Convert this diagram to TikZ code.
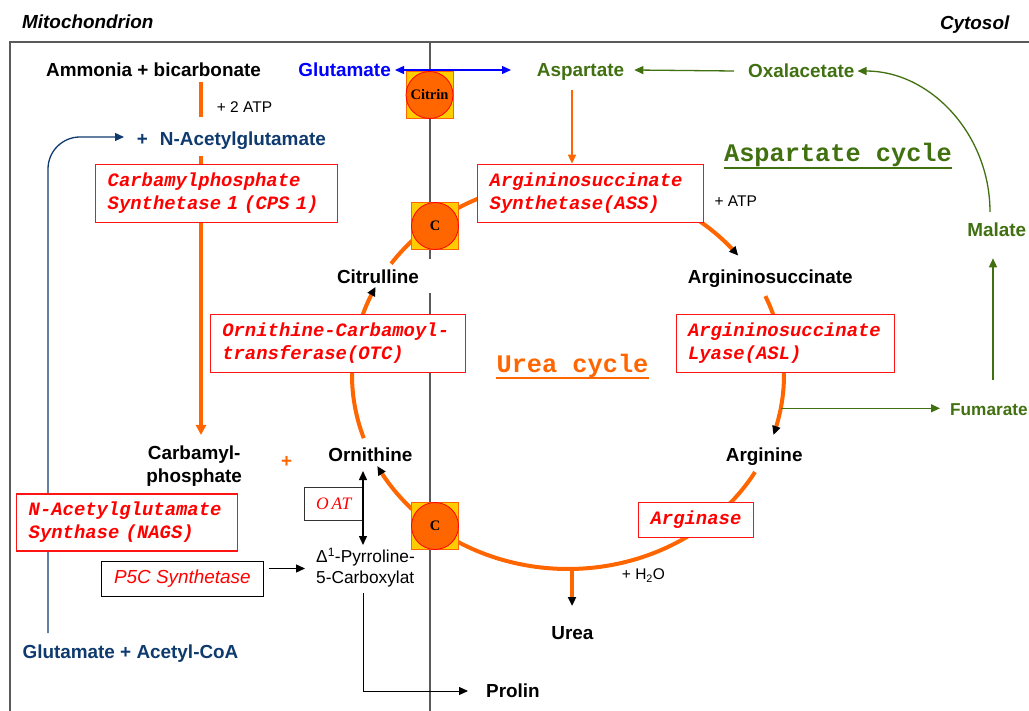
\documentclass[tikz,border=0pt]{standalone}
\usepackage{fontspec}
\setmainfont{Liberation Sans}
\newfontfamily\monof{Liberation Mono}
\newfontfamily\seriff{Liberation Serif}
\usetikzlibrary{arrows.meta}
\definecolor{orng}{RGB}{255,102,0}
\definecolor{grn}{RGB}{64,112,16}
\definecolor{dblue}{RGB}{15,58,110}
\definecolor{bblue}{RGB}{0,0,255}
\definecolor{framec}{RGB}{90,90,90}
\definecolor{ylw}{RGB}{255,204,0}
\definecolor{boxred}{RGB}{255,20,20}
\begin{document}
\begin{tikzpicture}[x=1pt,y=-1pt,
  lbltwo/.style={inner sep=0pt, font=\bfseries\fontsize{18.9}{23.4}\selectfont},
  lbl/.style={lbltwo, text height=13.6pt, text depth=0pt},
  sml/.style={inner sep=0pt, font=\fontsize{15.5}{18}\selectfont},
  enz/.style={draw=boxred, fill=white, line width=1.1pt, text=red, inner xsep=12pt, inner ysep=0pt,
    font=\monof\bfseries\itshape\fontsize{18.9}{23}\selectfont, align=left},
  cyc/.style={draw=orng, line width=4pt},
  btip/.style={-{Triangle[length=9pt,width=8pt,color=black,fill=black]}},
  tsq/.style={draw=orng, fill=ylw, line width=0.8pt, minimum size=47pt, inner sep=0pt},
  tcirc/.style={circle, draw=red, fill=orng, line width=0.8pt, minimum size=47pt, inner sep=0pt,
    font=\seriff\bfseries\fontsize{14.5}{16}\selectfont},
  heading/.style={inner sep=0pt, font=\monof\bfseries\fontsize{25.3}{28}\selectfont}
]
\useasboundingbox (0,0) rectangle (1029,711);

% frame and membrane
\draw[framec, line width=1.7pt] (10,713) |- (1031,42);
\draw[framec, line width=1.2pt] (430,42) -- (430,259);
\draw[framec, line width=1.2pt] (430,293) -- (430,713);

% urea cycle arcs (ellipse)
\draw[cyc, btip] plot[domain=161:207, samples=40, variable=\t] ({568+216*cos(\t)},{375+194*sin(\t)});
\draw[cyc, btip] plot[domain=215:322, samples=80, variable=\t] ({568+216*cos(\t)},{375+194*sin(\t)});
\draw[cyc, btip] plot[domain=336:378, samples=40, variable=\t] ({568+216*cos(\t)},{375+194*sin(\t)});
\draw[cyc, btip] plot[domain=30:152, samples=90, variable=\t] ({568+216*cos(\t)},{375+194*sin(\t)});

% coordinates
\coordinate (cpsA) at (201,82);
\coordinate (cpsB) at (201,117);
\coordinate (cpsC) at (201,156);
\coordinate (carbT) at (201,435);
\coordinate (gluR) at (511,70);
\coordinate (ureaS) at (572,568);
\coordinate (ureaE) at (572,606);
\coordinate (malB) at (993,380);
\coordinate (malT) at (993,258.3);
\coordinate (malC) at (990,212);
\coordinate (aslF) at (781,408.3);
\coordinate (gacT) at (48,633);
\coordinate (nagE) at (124,137);
\coordinate (oatT) at (363,471);
\coordinate (oatB) at (363,545);
\coordinate (pyrB) at (363,593);
\coordinate (prolE) at (468,691);
\coordinate (p5cE) at (305,568.5);

% N-acetylglutamate feedback (drawn behind the NAGS box)
\draw[dblue, line width=1.3pt, rounded corners=32pt, -{Triangle[length=9pt,width=8pt]}] (gacT) |- (nagE);

% headers
\node[lbl, anchor=west] (mito) at (22,22) {\itshape Mitochondrion};
\node[lbl, anchor=east] (cyto) at (1009.5,22.5) {\itshape Cytosol};

% metabolites
\node[lbl] (amm) at (153.5,70) {Ammonia + bicarbonate};
\node[lbl, text=bblue, anchor=east] (glu) at (391,70) {Glutamate};
\node[lbl, text=grn] (asp) at (580.5,70) {Aspartate};
\node[lbl, text=grn] (oxa) at (801.3,71) {Oxalacetate};
\node[lbl, text=grn] (mal) at (996.7,230) {Malate};
\node[lbl, text=grn, anchor=west, font=\bfseries\fontsize{17.2}{20}\selectfont] (fum) at (950,408.3) {Fumarate};
\node[sml, anchor=west] (atp2) at (216.7,106.7) {+ 2 ATP};
\node[lbl, text=dblue, anchor=west] (nag) at (136.7,138.3) {+\hspace{12pt}N-Acetylglutamate};
\node[sml, anchor=west] (atp1) at (714.3,200.7) {+ ATP};
\node[sml, anchor=west] (h2o) at (621.7,575.7) {+ H\textsubscript{2}O};
\node[lbl] (citr) at (378,277) {Citrulline};
\node[lbl] (asuc) at (770.3,276.7) {Argininosuccinate};
\node[lbl] (arg) at (764.2,455) {Arginine};
\node[lbl] (orn) at (370.3,454.3) {Ornithine};
\node[lbltwo, align=center] (carb) at (194.2,466) {Carbamyl-\\phosphate};
\node[lbl, text=orng] (plus) at (286.7,460.7) {+};
\node[lbl] (urea) at (572.5,632.3) {Urea};
\node[lbl, anchor=west] (prol) at (486,691) {Prolin};
\node[lbl, text=dblue] (gac) at (130.5,651.7) {Glutamate + Acetyl-CoA};
\node[sml, font=\fontsize{17.3}{20.5}\selectfont, anchor=west, align=left] (pyr) at (316,567.5) {Δ\textsuperscript{1}-Pyrroline-\\5-Carboxylat};

% cycle titles
\node[heading, text=grn, anchor=base] (acyc) at (838,162) {Aspartate cycle};
\draw[grn, line width=2.3pt] ([yshift=-6pt]acyc.base west) -- ([yshift=-6pt]acyc.base east);
\node[heading, text=orng, anchor=base] (ucyc) at (572.5,373) {Urea cycle};
\draw[orng, line width=2.3pt] ([yshift=-5pt]ucyc.base west) -- ([yshift=-5pt]ucyc.base east);

% enzyme boxes
\node[enz, text width=218pt, minimum height=58pt] (cps) at (216.7,193.2) {Carbamylphosphate\\Synthetase {\rmfamily 1} (CPS 1)};
\node[enz, text width=231.4pt, minimum height=57.6pt] (otc) at (338,343.5) {Ornithine-Carbamoyl-\\transferase(OTC)};
\node[enz, text width=201.6pt, minimum height=58pt] (ass) at (590.5,193.2) {Argininosuccinate\\Synthetase(ASS)};
\node[enz, text width=194.3pt, minimum height=57.6pt] (asl) at (785.2,343.5) {Argininosuccinate\\Lyase(ASL)};
\node[enz, text width=196.6pt, minimum height=57pt] (nags) at (127,522.5) {N-Acetylglutamate\\Synthase (NAGS)};
\node[enz, minimum width=115.7pt, minimum height=35.4pt, inner xsep=0pt] (argase) at (696,520) {Arginase};
\node[draw=black, line width=1.1pt, minimum width=162pt, minimum height=35.3pt, inner sep=0pt, text=red,
  font=\itshape\fontsize{18.9}{22}\selectfont] (p5c) at (182.3,578.7) {P5C Synthetase};
\node[draw=black!80, line width=0.9pt, minimum width=58pt, minimum height=33.4pt, inner sep=0pt, text=red,
  font=\seriff\itshape\fontsize{17.5}{20}\selectfont] (oat) at (333.7,504) {O\,AT};

% transporters
\node[tsq] (citsq) at (429.5,95) {};
\node[tcirc] (citrin) at (citsq) {Citrin};
\node[tsq] (c1sq) at (435,226) {};
\node[tcirc] (c1) at (c1sq) {C};
\node[tsq] (c2sq) at (435,526) {};
\node[tcirc] (c2) at (c2sq) {C};

% orange CPS line
\draw[orng, line width=3.2pt] (cpsA) -- (cpsB);
\draw[orng, line width=3.2pt] (cpsC) -- (cps.north -| cpsC);
\draw[orng, line width=3.2pt, -{Triangle[length=10pt,width=10pt]}] (cps.south -| cpsC) -- (carbT);

% aspartate to ASS
\draw[orng, line width=1.5pt, -{Triangle[length=9pt,width=8pt]}] (572,90) -- (ass.north -| 572,0);

% urea out
\draw[orng, line width=3.5pt, btip] (ureaS) -- (ureaE);

% glutamate/aspartate exchange
\draw[bblue, line width=1.4pt, {Triangle[length=9pt,width=8pt]}-{Triangle[length=9pt,width=8pt]}] ([xshift=4pt]glu.east) -- (gluR);

% aspartate cycle
\draw[grn, line width=1.3pt, -{Triangle[length=9pt,width=8pt]}] ([xshift=-14pt]oxa.west) -- ([xshift=10pt]asp.east);
\draw[grn, line width=1.3pt, -{Triangle[length=9pt,width=8pt]}] (malC) .. controls (990,134) and (930,71) .. ([xshift=3pt]oxa.east);
\draw[grn, line width=1.3pt, -{Triangle[length=9pt,width=8pt]}] (malB) -- (malT);
\draw[grn, line width=1.3pt, -{Triangle[length=9pt,width=8pt]}] (aslF) -- ([xshift=-10pt]fum.west);

% OAT / P5C / proline
\draw[black, line width=1.4pt, {Triangle[length=9pt,width=8pt]}-{Triangle[length=9pt,width=8pt]}] (oatT) -- (oatB);
\draw[black, line width=1.4pt, -{Triangle[length=9pt,width=8pt]}] ([xshift=5pt]p5c.east |- p5cE) -- (p5cE);
\draw[black, line width=1pt, -{Triangle[length=9pt,width=8pt]}] (pyrB) |- (prolE);
\end{tikzpicture}
\end{document}
